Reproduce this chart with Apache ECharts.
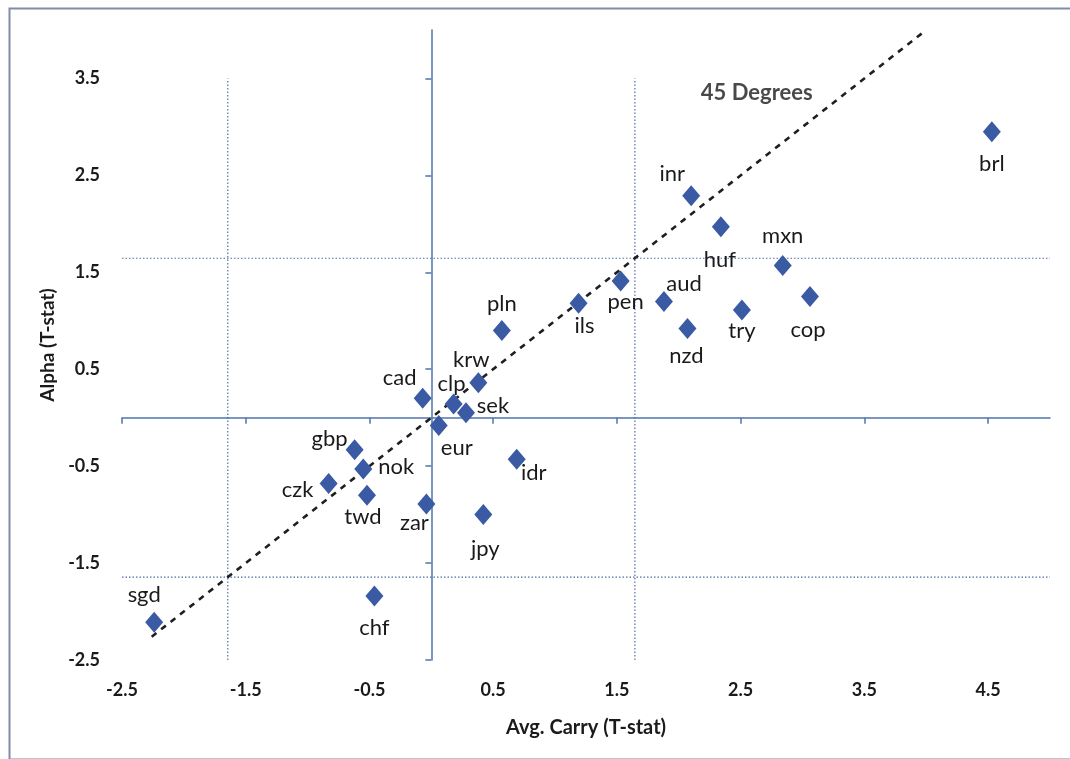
<!DOCTYPE html>
<html>
<head>
<meta charset="utf-8">
<script src="https://cdn.jsdelivr.net/npm/echarts@6/dist/echarts.min.js"></script>
<style>
html,body{margin:0;padding:0;background:#fff;}
#chart{width:1070px;height:759px;}
</style>
</head>
<body>
<div id="chart"></div>
<script>
// ---- data ----
const currencies = ['brl','inr','huf','mxn','pen','ils','aud','try','cop','nzd','pln','krw','cad','clp','sek','eur','gbp','nok','czk','twd','zar','idr','jpy','sgd','chf'];
const avgCarry  = [4.53,2.10,2.34,2.84,1.53,1.19,1.88,2.51,3.06,2.07,0.57,0.38,-0.07,0.18,0.28,0.06,-0.62,-0.55,-0.83,-0.52,-0.04,0.69,0.42,-2.24,-0.46];
const alphaT    = [2.95,2.29,1.97,1.57,1.41,1.18,1.20,1.11,1.25,0.92,0.90,0.36,0.20,0.14,0.05,-0.08,-0.33,-0.53,-0.68,-0.80,-0.89,-0.43,-1.00,-2.11,-1.84];
const xTicks = [-2.5,-1.5,-0.5,0.5,1.5,2.5,3.5,4.5];
const yTicks = [-2.5,-1.5,-0.5,0.5,1.5,2.5,3.5];
const critical = [-1.645, 1.645];
const diagonalRange = [-2.26, 4.0];
const xRange = [-2.5, 5];
const yRange = [-2.5, 4];
const verticalSpan = [-2.5, 3.5];
const annotation = {text: '45 Degrees', x: 2.63, y: 3.35};

// ---- layout (label offsets in px, style only) ----
const labelOffset = {
  brl:[0,32], inr:[-19,-22], huf:[-1,33], mxn:[0,-30], pen:[5,21], ils:[6,23],
  aud:[20,-17], try:[0,21], cop:[-2,33], nzd:[-1,27], pln:[0,-27], krw:[-7,-23],
  cad:[-23,-20], clp:[-2,-20], sek:[27,-7], eur:[18,22], gbp:[-25,-11], nok:[33,-2],
  czk:[-31,6], twd:[-4,22], zar:[-12,19], idr:[17,14], jpy:[2,34], sgd:[-10,-27], chf:[0,32]
};

const axisColor = '#4d76aa';
const dotColor = '#4f6fa6';
const txt = '#1a1a1a';
const FONT = 'Lato';

const points = currencies.map((c, i) => ({
  name: c,
  value: [avgCarry[i], alphaT[i]],
  label: {offset: labelOffset[c] || [0, 0]}
}));

const refLines = [];
critical.forEach(v => {
  refLines.push({
    type: 'line', xAxisIndex: 0, yAxisIndex: 0, silent: true, symbol: 'none',
    lineStyle: {color: dotColor, width: 1.2, type: [1.5, 2]},
    data: [[v, verticalSpan[0]], [v, verticalSpan[1]]], z: 1
  });
  refLines.push({
    type: 'line', xAxisIndex: 0, yAxisIndex: 0, silent: true, symbol: 'none',
    lineStyle: {color: dotColor, width: 1.2, type: [1.5, 2]},
    data: [[xRange[0], v], [xRange[1], v]], z: 1
  });
});

const chart = echarts.init(document.getElementById('chart'), null, {renderer: 'canvas'});
const grid = {left: 122, right: 20, top: 30, bottom: 99};

chart.setOption({
  animation: false,
  backgroundColor: '#fff',
  grid: grid,
  graphic: [{
    type: 'rect', left: 7, top: 6, shape: {width: 1080, height: 751},
    style: {fill: 'none', stroke: '#7f8ea8', lineWidth: 2}, silent: true, z: -10
  }],
  xAxis: [
    {
      type: 'value', min: xRange[0], max: xRange[1], position: 'bottom',
      axisLine: {show: true, onZero: true, onZeroAxisIndex: 0, lineStyle: {color: axisColor, width: 1.5}},
      axisTick: {show: true, customValues: xTicks, length: 6, lineStyle: {color: axisColor, width: 1.5}},
      axisLabel: {show: false}, splitLine: {show: false}
    },
    {
      type: 'value', min: xRange[0], max: xRange[1], position: 'bottom',
      axisLine: {show: false, onZero: false}, axisTick: {show: false}, splitLine: {show: false},
      axisLabel: {show: true, customValues: xTicks, margin: 21, color: txt, fontFamily: FONT, fontWeight: 'bold', fontSize: 18,
        formatter: v => v.toFixed(1)},
      name: 'Avg. Carry (T-stat)', nameLocation: 'middle', nameGap: 58,
      nameTextStyle: {color: txt, fontFamily: FONT, fontWeight: 'bold', fontSize: 20}
    }
  ],
  yAxis: [
    {
      type: 'value', min: yRange[0], max: yRange[1], position: 'left',
      axisLine: {show: true, onZero: true, onZeroAxisIndex: 0, lineStyle: {color: axisColor, width: 1.5}},
      axisTick: {show: true, customValues: yTicks, length: 6, lineStyle: {color: axisColor, width: 1.5}},
      axisLabel: {show: false}, splitLine: {show: false}
    },
    {
      type: 'value', min: yRange[0], max: yRange[1], position: 'left',
      axisLine: {show: false, onZero: false}, axisTick: {show: false}, splitLine: {show: false},
      axisLabel: {show: true, customValues: yTicks, margin: 22, color: txt, fontFamily: FONT, fontWeight: 'bold', fontSize: 18,
        formatter: v => v.toFixed(1)},
      name: 'Alpha (T-stat)', nameLocation: 'middle', nameGap: 64,
      nameTextStyle: {color: txt, fontFamily: FONT, fontWeight: 'bold', fontSize: 19}
    }
  ],
  series: refLines.concat([
    {
      type: 'line', xAxisIndex: 0, yAxisIndex: 0, silent: true, symbol: 'none',
      lineStyle: {color: '#1f1f1f', width: 2.6, type: [6, 6]},
      data: [[diagonalRange[0], diagonalRange[0]], [diagonalRange[1], diagonalRange[1]]], z: 2
    },
    {
      type: 'scatter', xAxisIndex: 0, yAxisIndex: 0,
      symbol: 'diamond', symbolSize: [18, 21],
      itemStyle: {color: '#3a5aa3', opacity: 1},
      label: {show: true, position: 'inside', formatter: p => p.name, color: txt, fontFamily: FONT, fontSize: 22},
      data: points, z: 5
    },
    {
      type: 'scatter', xAxisIndex: 0, yAxisIndex: 0, symbolSize: 0, silent: true,
      label: {show: true, position: 'inside', formatter: annotation.text, color: txt, fontFamily: FONT, fontWeight: 'bold', fontSize: 22},
      data: [[annotation.x, annotation.y]], z: 6
    }
  ])
});
</script>
</body>
</html>
